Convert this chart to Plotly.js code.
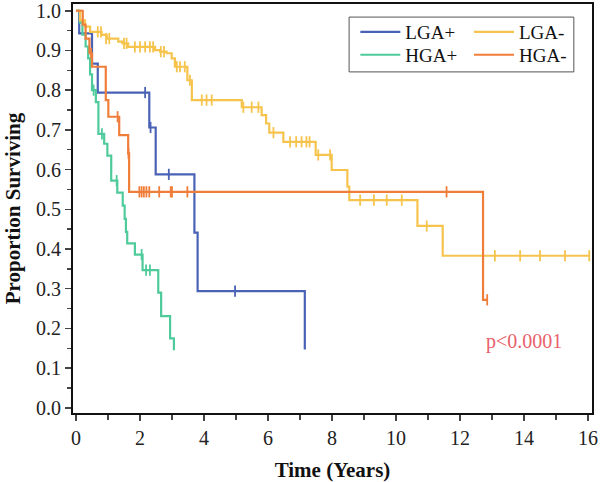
<!DOCTYPE html>
<html><head><meta charset="utf-8">
<script src="https://cdn.plot.ly/plotly-3.0.1.min.js"></script>
<style>html,body{margin:0;padding:0;background:#fff}#chart{width:600px;height:482px}</style>
</head><body><div id="chart"></div>
<script>
// LGA+ (blue)
const lgaPosTime = [0, 0.1, 0.5, 0.68, 2.29, 2.49, 3.7, 3.8, 7.15];
const lgaPosSurv = [1.0, 0.943, 0.867, 0.794, 0.706, 0.588, 0.441, 0.294, 0.147];
const lgaPosEnd = 7.15;
const lgaPosCensorTime = [2.16, 2.33, 2.9, 4.97];
const lgaPosCensorSurv = [0.794, 0.706, 0.588, 0.294];

// HGA+ (green)
const hgaPosTime = [0, 0.12, 0.2, 0.3, 0.38, 0.44, 0.5, 0.62, 0.7, 0.88, 0.98, 1.1, 1.29, 1.46, 1.52, 1.56, 1.6, 1.84, 2.08, 2.57, 2.66, 2.94, 3.06];
const hgaPosSurv = [1.0, 0.97, 0.94, 0.91, 0.88, 0.84, 0.80, 0.77, 0.69, 0.665, 0.635, 0.572, 0.542, 0.509, 0.476, 0.443, 0.414, 0.386, 0.347, 0.29, 0.231, 0.175, 0.145];
const hgaPosEnd = 3.06;
const hgaPosCensorTime = [0.55, 0.81, 1.27, 2.05, 2.19, 2.31];
const hgaPosCensorSurv = [0.80, 0.69, 0.572, 0.386, 0.347, 0.347];

// LGA- (yellow)
const lgaNegTime = [0, 0.125, 0.28, 0.44, 0.8, 0.96, 1.32, 1.45, 1.63, 2.47, 2.63, 2.83, 2.99, 3.09, 3.48, 3.62, 5.18, 5.8, 5.94, 6.04, 6.48, 7.49, 7.99, 8.48, 8.54, 10.67, 11.46];
const lgaNegSurv = [1.0, 0.976, 0.96, 0.947, 0.939, 0.930, 0.922, 0.918, 0.909, 0.901, 0.897, 0.893, 0.880, 0.859, 0.825, 0.775, 0.757, 0.737, 0.716, 0.693, 0.670, 0.637, 0.599, 0.557, 0.523, 0.458, 0.383];
const lgaNegEnd = 16.04;
const lgaNegCensorTime = [0.68, 0.78, 0.94, 1.04, 1.5, 1.58, 1.84, 2.0, 2.16, 2.31, 2.41, 2.65, 2.75, 3.15, 3.25, 3.4, 3.56, 3.93, 4.08, 4.24, 5.23, 5.49, 5.7, 6.17, 6.69, 6.88, 7.05, 7.2, 7.3, 7.57, 7.94, 8.88, 9.31, 9.71, 10.18, 10.96, 13.09, 13.88, 14.5, 15.28, 16.04];
const lgaNegCensorSurv = [0.947, 0.947, 0.930, 0.930, 0.918, 0.918, 0.909, 0.909, 0.909, 0.909, 0.909, 0.897, 0.897, 0.859, 0.859, 0.859, 0.825, 0.775, 0.775, 0.775, 0.757, 0.757, 0.757, 0.693, 0.670, 0.670, 0.670, 0.670, 0.670, 0.637, 0.637, 0.523, 0.523, 0.523, 0.523, 0.458, 0.383, 0.383, 0.383, 0.383, 0.383];

// HGA- (orange)
const hgaNegTime = [0, 0.21, 0.3, 0.42, 0.5, 0.93, 1.01, 1.35, 1.63, 1.66, 12.72];
const hgaNegSurv = [1.0, 0.965, 0.93, 0.893, 0.859, 0.775, 0.733, 0.687, 0.641, 0.544, 0.272];
const hgaNegEnd = 12.85;
const hgaNegCensorTime = [0.47, 1.3, 1.64, 1.98, 2.05, 2.12, 2.2, 2.29, 2.6, 2.96, 3.0, 3.48, 11.58, 12.85];
const hgaNegCensorSurv = [0.893, 0.733, 0.641, 0.544, 0.544, 0.544, 0.544, 0.544, 0.544, 0.544, 0.544, 0.544, 0.544, 0.272];

const seriesNames = ['LGA+', 'HGA+', 'LGA-', 'HGA-'];
const seriesColors = ['#4a62b6', '#4fcb9b', '#f6c44d', '#f07e3b'];
const pValueText = 'p<0.0001';

const groups = [
  [lgaPosTime, lgaPosSurv, lgaPosEnd, lgaPosCensorTime, lgaPosCensorSurv, 'legend'],
  [hgaPosTime, hgaPosSurv, hgaPosEnd, hgaPosCensorTime, hgaPosCensorSurv, 'legend2'],
  [lgaNegTime, lgaNegSurv, lgaNegEnd, lgaNegCensorTime, lgaNegCensorSurv, 'legend3'],
  [hgaNegTime, hgaNegSurv, hgaNegEnd, hgaNegCensorTime, hgaNegCensorSurv, 'legend4']
];

const traces = [];
groups.forEach((g, i) => {
  const [t, s, end, ct, cs, leg] = g;
  traces.push({
    x: t.concat([end]), y: s.concat([s[s.length - 1]]),
    type: 'scatter', mode: 'lines', line: {shape: 'hv', color: seriesColors[i], width: 2.2},
    name: seriesNames[i], legend: leg, hoverinfo: 'skip'
  });
});
groups.forEach((g, i) => {
  const [t, s, end, ct, cs] = g;
  traces.push({
    x: ct, y: cs, type: 'scatter', mode: 'markers', showlegend: false,
    marker: {symbol: 'line-ns-open', size: 8, color: seriesColors[i], line: {color: seriesColors[i], width: 1.8}},
    hoverinfo: 'skip'
  });
});

const serif = 'Liberation Serif, Times New Roman, serif';
const legFont = {family: serif, size: 19, color: '#111'};
function leg(x, y) {
  return {x: x, y: y, xanchor: 'left', yanchor: 'top', bgcolor: 'rgba(0,0,0,0)', borderwidth: 0,
          font: legFont, itemwidth: 40, tracegroupgap: 0};
}
const layout = {
  width: 600, height: 482,
  margin: {l: 73, r: 8, t: 4, b: 69},
  paper_bgcolor: '#fff', plot_bgcolor: '#fff',
  font: {family: serif, color: '#111'},
  showlegend: true,
  xaxis: {
    range: [-0.094, 16.125], dtick: 2, tick0: 0, ticks: 'outside', ticklen: 6, tickwidth: 1.5,
    minor: {dtick: 1, ticks: 'outside', ticklen: 5, tickwidth: 1.5},
    showline: true, linewidth: 2, linecolor: '#111', mirror: true,
    showgrid: false, zeroline: false, ticklabeloverflow: 'allow',
    tickfont: {family: serif, size: 20, color: '#222'},
    title: {text: '<b>Time (Years)</b>', font: {family: serif, size: 21, color: '#111'}, standoff: 16}
  },
  yaxis: {
    range: [-0.013, 1.017], dtick: 0.1, tick0: 0, tickformat: '.1f', ticks: 'outside', ticklen: 6, tickwidth: 1.5,
    minor: {dtick: 0.05, ticks: 'outside', ticklen: 4, tickwidth: 1.5},
    showline: true, linewidth: 2, linecolor: '#111', mirror: true,
    showgrid: false, zeroline: false, ticklabeloverflow: 'allow',
    tickfont: {family: serif, size: 20, color: '#222'},
    title: {text: '<b>Proportion Surviving</b>', font: {family: serif, size: 21, color: '#111'}, standoff: 10}
  },
  legend: leg(0.544, 0.978),
  legend2: leg(0.544, 0.922),
  legend3: leg(0.763, 0.978),
  legend4: leg(0.763, 0.922),
  shapes: [{
    type: 'rect', xref: 'paper', yref: 'paper', x0: 0.532, x1: 0.965, y0: 0.834, y1: 0.968,
    line: {color: '#555', width: 1}, fillcolor: 'rgba(0,0,0,0)'
  }],
  annotations: [{
    x: 14.0, y: 0.166, xref: 'x', yref: 'y', text: pValueText, showarrow: false,
    font: {family: serif, size: 20, color: '#e8606a'}
  }]
};

Plotly.newPlot('chart', traces, layout, {displayModeBar: false, staticPlot: true});
</script>
</body></html>
